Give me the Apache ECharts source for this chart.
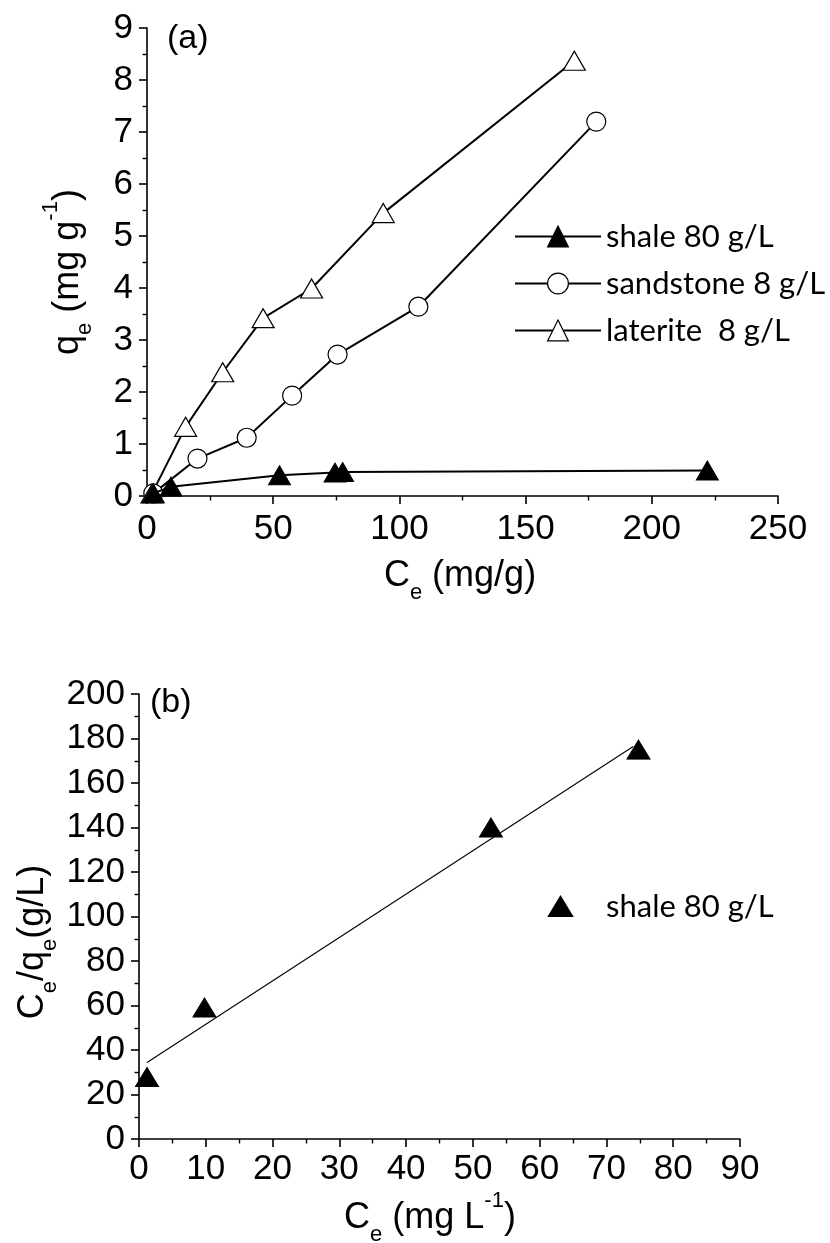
<!DOCTYPE html>
<html><head><meta charset="utf-8">
<script src="https://cdn.jsdelivr.net/npm/echarts@6/dist/echarts.min.js"></script>
<style>html,body{margin:0;padding:0;background:#fff}#c{width:830px;height:1243px}</style>
</head><body><div id="c"></div>
<script>
// ---- Panel (a): adsorption isotherms ----
const shaleX = [2.5, 9.5, 52.5, 74.5, 77.5, 222];
const shaleY = [0.05, 0.18, 0.40, 0.45, 0.46, 0.49];
const sandX = [2.5, 20, 39.5, 57.5, 75.5, 107.5, 178];
const sandY = [0.05, 0.72, 1.12, 1.93, 2.72, 3.64, 7.2];
const latX = [2, 15.3, 30, 46, 65.2, 93.6, 169.3];
const latY = [0.05, 1.33, 2.38, 3.42, 3.99, 5.44, 8.37];
const seriesNamesA = ['shale 80 g/L', 'sandstone 8 g/L', 'laterite  8 g/L'];

// ---- Panel (b): Langmuir linearisation ----
const linX = [1.2, 9.8, 52.7, 74.8];
const linY = [27.9, 59.1, 140, 175];
const fitX = [1.2, 74];
const fitY = [34.4, 176.4];
const seriesNameB = 'shale 80 g/L';

const ARIAL = '"Liberation Sans", Arial, sans-serif';
const pairs = (xs, ys) => xs.map((x, i) => [x, ys[i]]);

function ax(extra, margin) {
  return Object.assign({
    type: 'value',
    axisLine: { show: true, onZero: false, lineStyle: { color: '#000', width: 1.6 } },
    axisTick: { show: true, inside: false, length: 8, lineStyle: { color: '#000', width: 1.6 } },
    minorTick: { show: true, splitNumber: 2, length: 4.5, lineStyle: { color: '#000', width: 1.4 } },
    splitLine: { show: false }, minorSplitLine: { show: false },
    axisLabel: { color: '#000', fontFamily: ARIAL, fontSize: 35, margin: margin, showMinLabel: true, showMaxLabel: true }
  }, extra);
}

const titleRich = {
  t: { fontSize: 36, fontFamily: ARIAL, lineHeight: 56, fill: '#000' },
  s: { fontSize: 22, fontFamily: ARIAL, lineHeight: 20, verticalAlign: 'bottom', fill: '#000' },
  p: { fontSize: 22, fontFamily: ARIAL, lineHeight: 34, verticalAlign: 'top', fill: '#000' }
};
function label(text, x, y, rot) {
  return { type: 'text', x: x, y: y, rotation: rot || 0, silent: true,
    style: { text: text, rich: titleRich, align: 'center', verticalAlign: 'middle', fill: '#000' } };
}

const chart = echarts.init(document.getElementById('c'));
chart.setOption({
  animation: false,
  backgroundColor: '#fff',
  grid: [
    { left: 147, top: 28, width: 631, height: 468 },
    { left: 139, top: 694, width: 601, height: 445 }
  ],
  xAxis: [
    ax({ gridIndex: 0, min: 0, max: 250, interval: 50 }, 16),
    ax({ gridIndex: 1, min: 0, max: 90, interval: 10 }, 13)
  ],
  yAxis: [
    ax({ gridIndex: 0, min: 0, max: 9, interval: 1 }, 14),
    ax({ gridIndex: 1, min: 0, max: 200, interval: 20 }, 14)
  ],
  legend: [
    {
      data: seriesNamesA, orient: 'vertical', left: 509, top: 215,
      itemWidth: 86, itemHeight: 26, itemGap: 14, selectedMode: false,
      itemStyle: { borderWidth: 1.2 },
      textStyle: { fontFamily: 'Lato', fontSize: 31, color: '#000', lineHeight: 33 }
    },
    {
      data: [seriesNameB + ' (b)'], orient: 'vertical', left: 543, top: 885,
      itemWidth: 23, itemHeight: 19, symbolKeepAspect: false, selectedMode: false,
      itemStyle: { opacity: 1 },
      formatter: n => n.replace(' (b)', ''),
      textStyle: { fontFamily: 'Lato', fontSize: 31, color: '#000', lineHeight: 33, padding: [0, 0, 0, 29] }
    }
  ],
  graphic: [
    { type: 'text', x: 167, y: 22, silent: true, style: { text: '(a)', font: '34px ' + ARIAL, fill: '#000' } },
    { type: 'text', x: 150, y: 686, silent: true, style: { text: '(b)', font: '34px ' + ARIAL, fill: '#000' } },
    label('{t|C}{s|e}{t| (mg/g)}', 460, 576),
    label('{t|q}{s|e}{t| (mg g}{p|-1}{t|)}', 68, 272, Math.PI / 2),
    label('{t|C}{s|e}{t| (mg L}{p|-1}{t|)}', 430, 1218),
    label('{t|C}{s|e}{t|/q}{s|e}{t|(g/L)}', 33, 942, Math.PI / 2)
  ],
  series: [
    { name: seriesNamesA[0], type: 'line', xAxisIndex: 0, yAxisIndex: 0, data: pairs(shaleX, shaleY),
      symbol: 'triangle', symbolSize: [22, 19], showSymbol: true, clip: false, z: 3,
      itemStyle: { color: '#000', borderColor: '#000', borderWidth: 1 },
      lineStyle: { color: '#000', width: 2 } },
    { name: seriesNamesA[1], type: 'line', xAxisIndex: 0, yAxisIndex: 0, data: pairs(sandX, sandY),
      symbol: 'circle', symbolSize: 19, showSymbol: true, clip: false, z: 2,
      itemStyle: { color: '#fff', borderColor: '#000', borderWidth: 1.2 },
      lineStyle: { color: '#000', width: 2 } },
    { name: seriesNamesA[2], type: 'line', xAxisIndex: 0, yAxisIndex: 0, data: pairs(latX, latY),
      symbol: 'triangle', symbolSize: [22, 19], showSymbol: true, clip: false, z: 2,
      itemStyle: { color: '#fff', borderColor: '#000', borderWidth: 1.2 },
      lineStyle: { color: '#000', width: 2 } },
    { name: 'fit', type: 'line', xAxisIndex: 1, yAxisIndex: 1, data: pairs(fitX, fitY),
      symbol: 'none', lineStyle: { color: '#000', width: 1.1 }, z: 2 },
    { name: seriesNameB + ' (b)', type: 'scatter', xAxisIndex: 1, yAxisIndex: 1, data: pairs(linX, linY),
      symbol: 'triangle', symbolSize: [23, 19], z: 3,
      itemStyle: { color: '#000', borderColor: '#000', borderWidth: 1, opacity: 1 } }
  ]
});
</script>
</body></html>
